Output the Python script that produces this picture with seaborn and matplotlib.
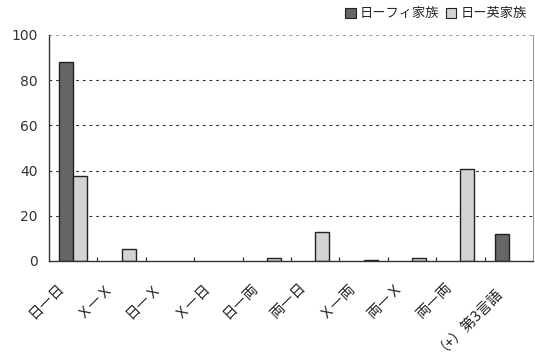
import matplotlib
matplotlib.use("Agg")
import matplotlib.pyplot as plt
import matplotlib.transforms as mtransforms
import seaborn as sns
import pandas as pd
from matplotlib.patches import Patch

categories = ["日―日", "Ｘ―Ｘ", "日―Ｘ", "Ｘ―日", "日―両", "両―日", "Ｘ―両", "両―Ｘ", "両―両", "（+）第3言語"]
series_names = ["日ーフィ家族", "日ー英家族"]
finnish_family = [88, 0, 0, 0, 0, 0, 0, 0, 0, 12]
english_family = [37.7, 5.4, 0, 0, 1.3, 12.9, 0.6, 1.3, 40.8, 0]
yticks = [0, 20, 40, 60, 80, 100]

colors = ["#666666", "#d3d3d3"]

df = pd.DataFrame({
    "cat": categories * 2,
    "series": [series_names[0]] * len(categories) + [series_names[1]] * len(categories),
    "value": finnish_family + english_family,
})

sns.set_theme(style="white")
plt.rcParams["font.family"] = ["Noto Sans CJK JP", "DejaVu Sans"]

fig = plt.figure(figsize=(5.35, 3.57), dpi=100)
ax = fig.add_axes([49 / 535, 1 - 261 / 357, (533 - 49) / 535, (261 - 35) / 357])

sns.barplot(data=df, x="cat", y="value", hue="series", order=categories,
            hue_order=series_names, palette=colors, width=0.58,
            edgecolor="#222222", linewidth=1.0, saturation=1, legend=False, ax=ax)

# empty bars are not drawn
for p in ax.patches:
    if p.get_height() == 0:
        p.set_visible(False)

ax.set_ylim(0, 100)
ax.set_xlim(-0.5, len(categories) - 0.5)
ax.set_yticks(yticks)
ax.set_yticklabels([str(v) for v in yticks], fontsize=10, color="#333333",
                   family=["DejaVu Sans"])
for v in yticks[1:]:
    ax.axhline(v, color="#333333" if v < 100 else "#999999", lw=0.8,
               ls=(0, (2.5, 3.5)), zorder=0)

ax.set_xticks(range(len(categories)))
ax.set_xticklabels(categories, rotation=45, ha="right", va="top",
                   rotation_mode="anchor", fontsize=10.5, color="#222222")
ax.tick_params(axis="x", length=0, pad=14)
ax.tick_params(axis="y", length=0, pad=8)
shift = mtransforms.ScaledTranslation(-16 / 100, 0, fig.dpi_scale_trans)
for lab in ax.get_xticklabels():
    lab.set_transform(lab.get_transform() + shift)

# small separators between groups, rising from the base line
for b in range(1, len(categories)):
    ax.plot([b - 0.5, b - 0.5], [0, 1.8], color="#333333", lw=0.9,
            solid_capstyle="butt", clip_on=False, zorder=3)

ax.set_xlabel("")
ax.set_ylabel("")
for side in ["left", "bottom"]:
    ax.spines[side].set_color("#333333")
    ax.spines[side].set_linewidth(1.0)
ax.spines["top"].set_visible(False)
ax.spines["right"].set_color("#999999")
ax.spines["right"].set_linewidth(0.8)

handles = [Patch(facecolor=c, edgecolor="#222222", lw=0.8) for c in colors]
fig.legend(handles, series_names, loc="upper right", bbox_to_anchor=(0.998, 1.0),
           ncol=2, frameon=False, fontsize=9.5, handlelength=0.8, handleheight=0.8,
           handletextpad=0.3, columnspacing=0.5, borderaxespad=0.15)

fig.savefig("out.png", dpi=100)
